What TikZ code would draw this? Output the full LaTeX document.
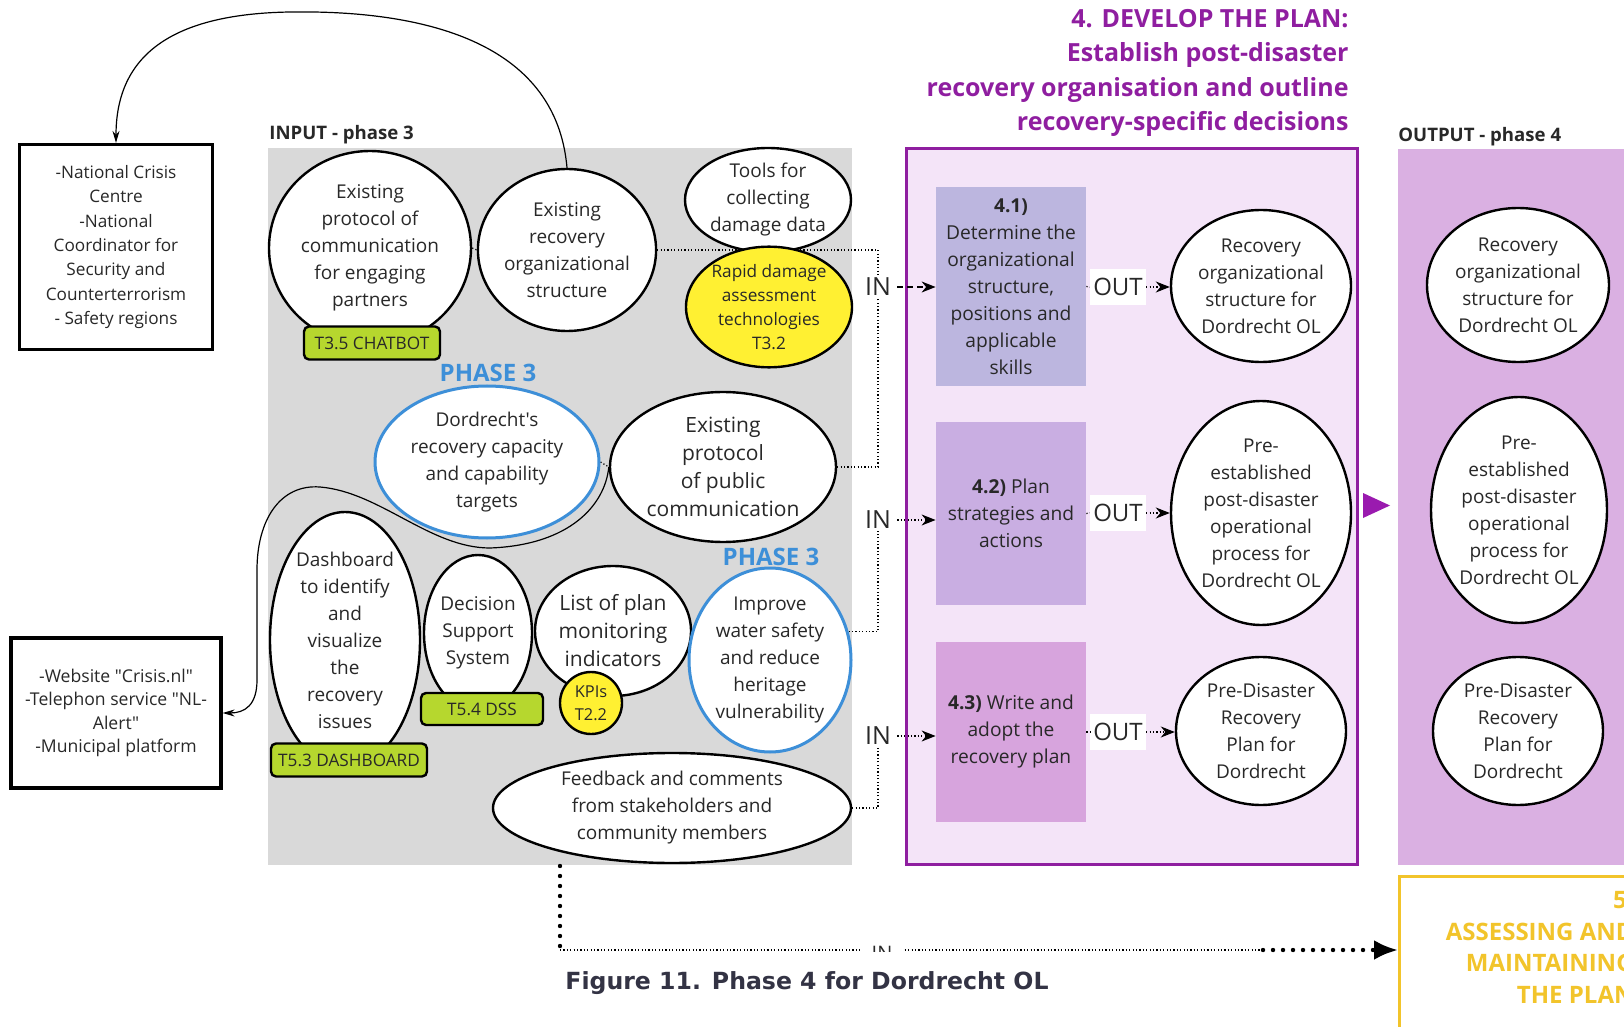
\documentclass[tikz,border=0pt]{standalone}
\usepackage{fontspec}
\setmainfont{Open Sans}[Ligatures=TeXOff]
\newfontfamily\capfont{DejaVu Sans}
\usetikzlibrary{shapes.geometric,arrows.meta}
\definecolor{ink}{RGB}{40,40,40}
\definecolor{panelgray}{RGB}{217,217,217}
\definecolor{plum}{RGB}{143,30,160}
\definecolor{lilacbg}{RGB}{244,228,248}
\definecolor{stepa}{RGB}{188,182,223}
\definecolor{stepb}{RGB}{201,174,226}
\definecolor{stepc}{RGB}{215,164,221}
\definecolor{outpanel}{RGB}{218,176,226}
\definecolor{hilite}{RGB}{255,240,50}
\definecolor{tagfill}{RGB}{182,215,46}
\definecolor{skyblue}{RGB}{61,143,216}
\definecolor{gold}{RGB}{242,196,43}
\definecolor{captionink}{RGB}{51,51,68}
\definecolor{plumtip}{RGB}{154,26,175}
\pgfdeclarelayer{panels}
\pgfdeclarelayer{links}
\pgfsetlayers{panels,links,main}
\begin{document}
\begin{tikzpicture}[x=0.5pt,y=-0.5pt,
  sz/.style 2 args={minimum width=#1pt,minimum height=#2pt},
  bubble/.style={ellipse,draw=black,line width=1.2pt,fill=white,inner sep=0pt,align=center,text=ink,font=\fontsize{9.5}{13.5}\selectfont},
  phasebubble/.style={bubble,draw=skyblue,line width=1.5pt},
  techbubble/.style={bubble,fill=hilite,font=\fontsize{8.6}{12}\selectfont},
  tag/.style={rectangle,rounded corners=2.5pt,draw=black,line width=1.2pt,fill=tagfill,inner sep=0pt,text=ink,font=\fontsize{8.6}{10}\selectfont},
  actorbox/.style={rectangle,draw=black,line width=1.6pt,fill=white,inner sep=0pt,align=center,text=ink},
  stepbox/.style={rectangle,inner sep=0pt,align=center,text=ink,font=\fontsize{9.6}{13.5}\selectfont,minimum width=75pt},
  inlabel/.style={inner sep=1pt,text=ink,font=\fontsize{12.5}{14}\selectfont},
  outlabel/.style={fill=white,inner xsep=1.5pt,inner ysep=4.5pt,text=ink,font=\fontsize{12}{14}\selectfont},
  phasetag/.style={inner sep=0pt,text=skyblue,font=\bfseries\fontsize{12}{14}\selectfont},
  headtag/.style={inner sep=0pt,anchor=west,text=ink,font=\bfseries\fontsize{9.3}{11}\selectfont},
  finedots/.style={line width=0.6pt,dash pattern=on 0.6pt off 1.1pt},
  dashlink/.style={line width=0.7pt,dash pattern=on 3pt off 2pt},
  heavydots/.style={line width=2.2pt,dash pattern=on 0pt off 5pt,line cap=round},
  thinlink/.style={line width=0.6pt},
  tip/.style={-{Stealth[length=7pt,width=5.5pt]}},
  smalltip/.style={-{Stealth[length=6pt,width=3.5pt]}}
]
\useasboundingbox (0,0) rectangle (1624,1027);
\clip (0,0) rectangle (1624,1027);

% background panels
\begin{pgfonlayer}{panels}
  \node[fill=panelgray,anchor=north west,sz={292}{358.5},inner sep=0pt] (inpanel) at (268,148) {};
  \node[draw=plum,line width=1.5pt,fill=lilacbg,anchor=north west,sz={225.5}{358},inner sep=0pt] (frame) at (905,147) {};
  \node[fill=outpanel,anchor=north west,sz={141}{358},inner sep=0pt] (outpanelbox) at (1398,149) {};
  \node[draw=gold,line width=1.5pt,fill=white,anchor=north west,sz={151}{92.5},inner sep=0pt] (p5) at (1398,875) {};
\end{pgfonlayer}

% headings
\node[anchor=east,align=right,inner sep=0pt,text=plum,font=\bfseries\fontsize{12.5}{17.3}\selectfont] (title) at (1349,73)
  {4. DEVELOP THE PLAN:\\Establish post-disaster\\recovery organisation and outline\\recovery-specific decisions};
\node[headtag] (inhead) at (269,135) {INPUT - phase 3};
\node[headtag] (outhead) at (1398,137) {OUTPUT - phase 4};
\node[anchor=east,align=right,inner sep=0pt,text=gold,font=\bfseries\fontsize{12}{15.8}\selectfont] (p5text) at (1634,947.5)
  {5.\\ASSESSING AND\\MAINTAINING\\THE PLAN};

% outside actors
\node[actorbox,sz={96.5}{102.5},font=\fontsize{8.6}{12.2}\selectfont] (crisis) at (116,247)
  {-National Crisis\\Centre\\-National\\Coordinator for\\Security and\\Counterterrorism\\- Safety regions};
\node[actorbox,sz={105}{75},font=\fontsize{8.8}{11.8}\selectfont] (media) at (116,713)
  {-Website "Crisis.nl"\\-Telephon service "NL-\\Alert"\\-Municipal platform};

% phase 3 inputs
\node[bubble,sz={101}{97}] (A) at (370,248) {Existing\\protocol of\\communication\\for engaging\\partners};
\node[tag,sz={68}{16.5}] (chatbot) at (372,343) {T3.5 CHATBOT};
\node[bubble,sz={88}{81}] (B) at (567,250) {Existing\\recovery\\organizational\\structure};
\node[bubble,sz={83}{52}] (C) at (768,200) {Tools for\\collecting\\damage data};
\node[techbubble,sz={83}{60}] (D) at (769,307) {Rapid damage\\assessment\\technologies\\T3.2};
\node[phasetag] (ph3a) at (488,373) {PHASE 3};
\node[phasebubble,sz={112}{76}] (F) at (487,462) {Dordrecht's\\recovery capacity\\and capability\\targets};
\node[bubble,sz={113}{75},font=\fontsize{10.5}{14}\selectfont] (E) at (723,467) {Existing\\protocol\\of public\\communication};
\node[bubble,sz={75}{128}] (G) at (345,640) {Dashboard\\to identify\\and\\visualize\\the\\recovery\\issues};
\node[tag,sz={78}{16.5}] (dashtag) at (349,760) {T5.3 DASHBOARD};
\node[bubble,sz={54}{78}] (H) at (478,633) {Decision\\Support\\System};
\node[tag,sz={61}{16}] (dsstag) at (482,709) {T5.4 DSS};
\node[bubble,sz={78}{65},font=\fontsize{10.5}{14}\selectfont] (I) at (613,631) {List of plan\\monitoring\\indicators};
\node[techbubble,sz={31}{31},font=\fontsize{8.2}{11.5}\selectfont] (kpi) at (591,703) {KPIs\\T2.2};
\node[phasetag] (ph3b) at (771,557) {PHASE 3};
\node[phasebubble,sz={81}{92}] (J) at (770,660) {Improve\\water safety\\and reduce\\heritage\\vulnerability};
\node[bubble,sz={179}{55}] (K) at (672,808) {Feedback and comments\\from stakeholders and\\community members};

% phase 4 steps
\node[inlabel] (in1) at (878,287) {IN};
\node[inlabel] (in2) at (878,520) {IN};
\node[inlabel] (in3) at (878,736) {IN};
\node[stepbox,fill=stepa,minimum height=99.5pt] (s41) at (1011,286.5)
  {\textbf{4.1)}\\Determine the\\organizational\\structure,\\positions and\\applicable\\skills};
\node[stepbox,fill=stepb,minimum height=91.5pt] (s42) at (1011,513.5) {\textbf{4.2)} Plan\\strategies and\\actions};
\node[stepbox,fill=stepc,minimum height=90pt] (s43) at (1011,732) {\textbf{4.3)} Write and\\adopt the\\recovery plan};
\node[outlabel] (out1) at (1118,287) {OUT};
\node[outlabel] (out2) at (1118,513) {OUT};
\node[outlabel] (out3) at (1118,732) {OUT};
\node[bubble,sz={90}{76}] (r1) at (1261,286) {Recovery\\organizational\\structure for\\Dordrecht OL};
\node[bubble,sz={90}{112}] (r2) at (1261,513) {Pre-\\established\\post-disaster\\operational\\process for\\Dordrecht OL};
\node[bubble,sz={85}{74}] (r3) at (1261,731) {Pre-Disaster\\Recovery\\Plan for\\Dordrecht};

% phase 4 outputs
\node[bubble,sz={91}{77}] (o1) at (1518,285) {Recovery\\organizational\\structure for\\Dordrecht OL};
\node[bubble,sz={88}{113}] (o2) at (1519,510) {Pre-\\established\\post-disaster\\operational\\process for\\Dordrecht OL};
\node[bubble,sz={85}{74}] (o3) at (1518,731) {Pre-Disaster\\Recovery\\Plan for\\Dordrecht};

% hand-over marker between the plan and its outputs
\fill[plumtip] (1363,493) -- (1390,505.5) -- (1363,518) -- cycle;

% loop to phase 5
\coordinate (dropstart) at (560,866);
\coordinate (dropturn) at (560,950);
\coordinate (dropfast) at (1263,950);
\begin{scope}
  \clip (850,930) rectangle (915,951);
  \node[inlabel,fill=white,inner xsep=6pt,font=\fontsize{10}{12}\selectfont] (inlow) at (882,953) {IN};
\end{scope}

\node[font=\capfont\bfseries\fontsize{11.8}{14}\selectfont,text=captionink,inner sep=0pt] (caption) at (807,983)
  {Figure 11. Phase 4 for Dordrecht OL};

% connectors
\begin{pgfonlayer}{links}
  \draw[thinlink,smalltip] (B.north) .. controls (556,40) and (420,10) .. (290,12)
     .. controls (165,14) and (116,60) .. (crisis.north);
  \draw[thinlink,smalltip] (E.west) .. controls (605,505) and (570,545) .. (490,548)
     .. controls (430,548) and (380,492) .. (320,487)
     .. controls (280,484) and (257,520) .. (257,570) -- (257,680)
     .. controls (257,705) and (245,713) .. (media.east);
  \draw[finedots] (A.east) -- (B.west);
  \draw[finedots] (F.east) -- (E.west);
  \draw[finedots] (B.east) -| (in1.north);
  \draw[finedots] (E.east) -| (in1.south);
  \draw[finedots] (J.20) -| (in2.south);
  \draw[finedots] (K.east) -| (in3.south);
  \draw[heavydots] (dropstart) -- (dropturn);
  \draw[finedots] (dropturn) -- (dropturn -| inlow.west);
  \draw[finedots] (dropturn -| inlow.east) -- (dropfast);
  \draw[heavydots,-{Latex[length=12pt,width=10pt]}] (dropfast) -- (dropfast -| p5.west);
\end{pgfonlayer}
\draw[dashlink,tip,shorten <=2pt] (in1.east) -- (in1.east -| s41.west);
\draw[finedots,tip,shorten <=2pt] (in2.east) -- (in2.east -| s42.west);
\draw[finedots,tip,shorten <=2pt] (in3.east) -- (in3.east -| s43.west);
\draw[finedots] (s41.east) -- (out1.west);
\draw[finedots] (s42.east) -- (out2.west);
\draw[finedots] (s43.east) -- (out3.west);
\draw[finedots,tip] (out1.east) -- (out1.east -| r1.west);
\draw[finedots,tip] (out2.east) -- (out2.east -| r2.west);
\draw[finedots,tip] (out3.east) -- (out3.east -| r3.west);
\end{tikzpicture}
\end{document}
